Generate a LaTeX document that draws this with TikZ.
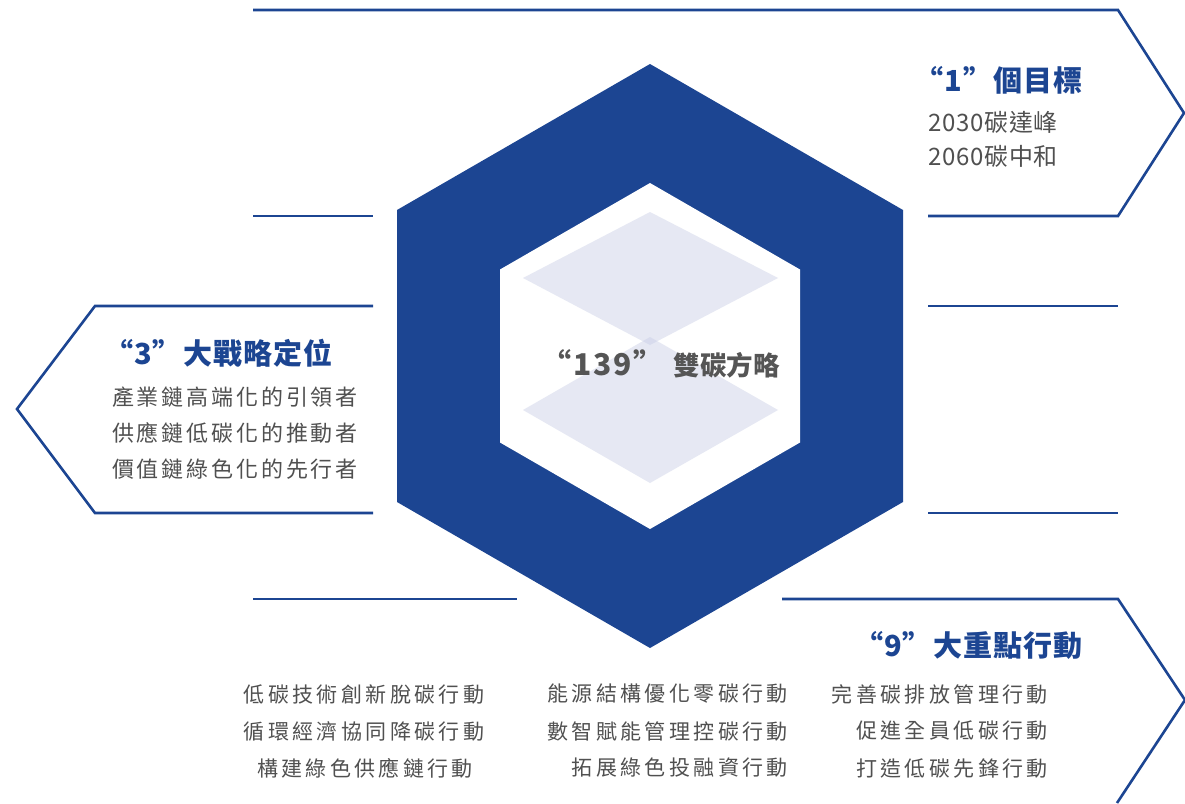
\documentclass[tikz,border=0pt]{standalone}
\usepackage{fontspec}
\setmainfont{Noto Sans CJK TC}
\usetikzlibrary{positioning}
\definecolor{hexblue}{RGB}{28,69,146}
\definecolor{txtgrey}{RGB}{80,80,80}
\definecolor{coregrey}{RGB}{85,85,85}
\definecolor{lilac}{RGB}{200,205,230}
\tikzset{
	frame/.style={draw=hexblue, line width=2.6pt, line join=miter},
	head/.style={text=hexblue, inner sep=0pt, font=\fontsize{29}{31}\selectfont\bfseries\addfontfeature{LetterSpace=4}},
	body/.style={text=txtgrey, inner sep=0pt, font=\fontsize{22}{24}\selectfont\addfontfeature{LetterSpace=13}},
	goalline/.style={text=txtgrey, inner sep=0pt, font=\fontsize{24}{26}\selectfont\addfontfeature{LetterSpace=3}},
	action/.style={text=txtgrey, inner sep=0pt, font=\fontsize{21}{23}\selectfont\addfontfeature{LetterSpace=16}},
	facet/.style={fill=lilac, opacity=0.45}
}

\begin{document}
\begin{tikzpicture}[x=1pt, y=-1pt]
	\useasboundingbox (0,0) rectangle (1185,803);
	\fill[white] (0,0) rectangle (1185,803);
	\draw[frame] (253,10) -- (1118,10) -- (1184,113) -- (1118,216) -- (928,216);
	\draw[frame] (253,216) -- (373,216);
	\draw[frame] (373,306) -- (95,306) -- (17,409) -- (95,513) -- (373,513);
	\draw[frame] (928,306) -- (1118,306);
	\draw[frame] (928,513) -- (1118,513);
	\draw[frame] (253,599) -- (517,599);
	\draw[frame] (782,599) -- (1118,599) -- (1185,700) -- (1117,803);
	\fill[hexblue] (650,64) -- (903,210) -- (903,502) -- (650,648) -- (397,502) -- (397,210) -- cycle;
	\fill[white] (650,183) -- (800,269.5) -- (800,442.5) -- (650,529) -- (500,442.5) -- (500,269.5) -- cycle;
	\fill[facet] (650,212) -- (778,278) -- (650,345) -- (523,278) -- cycle;
	\fill[facet] (650,337) -- (778,410) -- (650,483) -- (523,410) -- cycle;
	\node[text=coregrey, inner sep=0pt, font=\fontsize{26.5}{28}\selectfont\bfseries, anchor=east] (core) at (780,364) {{\fontsize{30}{32}\selectfont\addfontfeature{LetterSpace=6}“139”}\hspace{10pt}雙碳方略};
	\node[head, anchor=east] (goalhead) at (1083,80) {“1”個目標};
	\node[goalline, anchor=west] (goalA) at (928,122) {2030碳達峰};
	\node[goalline, anchor=west] (goalB) at (928,156) {2060碳中和};
	\node[head, anchor=east] (planhead) at (333,353) {“3”大戰略定位};
	\node[body, anchor=east] (planA) at (358,397) {產業鏈高端化的引領者};
	\node[body, anchor=east] (planB) at (358,433) {供應鏈低碳化的推動者};
	\node[body, anchor=east] (planC) at (358,469) {價值鏈綠色化的先行者};
	\node[head, anchor=east] (acthead) at (1083,645) {“9”大重點行動};
	\node[action] (actA) at (364,694) {低碳技術創新脫碳行動};
	\node[action] (actB) at (364,731) {循環經濟協同降碳行動};
	\node[action] (actC) at (365,768) {構建綠色供應鏈行動};
	\node[action, anchor=east] (actD) at (788,694) {能源結構優化零碳行動};
	\node[action, anchor=east] (actE) at (788,731) {數智賦能管理控碳行動};
	\node[action, anchor=east] (actF) at (788,768) {拓展綠色投融資行動};
	\node[action, anchor=east] (actG) at (1048,694) {完善碳排放管理行動};
	\node[action, anchor=east] (actH) at (1048,731) {促進全員低碳行動};
	\node[action, anchor=east] (actI) at (1048,768) {打造低碳先鋒行動};
\end{tikzpicture}
\end{document}
